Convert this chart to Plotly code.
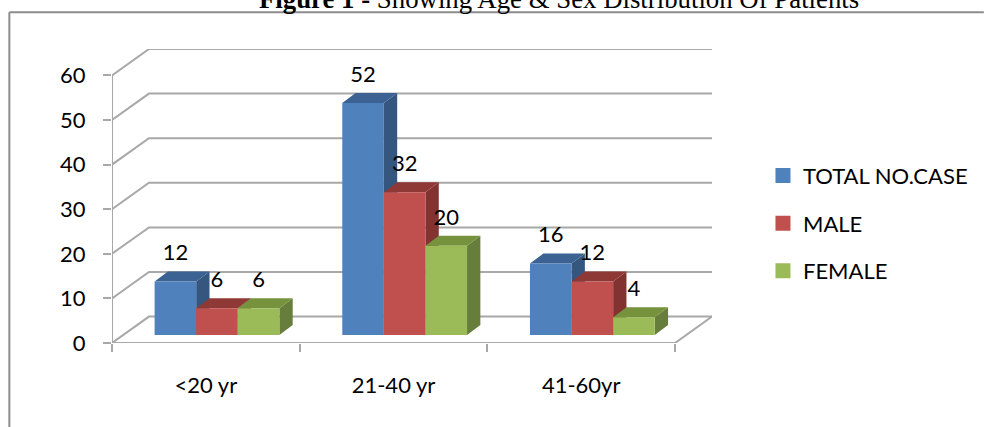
import plotly.graph_objects as go

# Data
categories = ["<20 yr", "21-40 yr", "41-60yr"]
total_cases = [12, 52, 16]
male_cases = [6, 32, 12]
female_cases = [6, 20, 4]
series_names = ["TOTAL NO.CASE", "MALE", "FEMALE"]
y_ticks = [0, 10, 20, 30, 40, 50, 60]
title_html = "<b>Figure 1 -</b> Showing Age &amp; Sex Distribution Of Patients"

# Style
front_colors = ["#4f81bd", "#c0504d", "#9bbb59"]
side_colors = ["#34567f", "#823230", "#677d3b"]
top_colors = ["#3b6292", "#8f3937", "#76923c"]
GRID = "#a8a8a8"
TEXT_FONT = "Lato"
FS = 22

# Faux-3D geometry in axis units
W, H = 984, 427
L, R, T, B = 111.7, 272, 49.3, 84
WALL_DX, WALL_DY = 0.197, 5.92
BAR_W, BAR_START = 0.2216, 0.227
BAR_BASE = 1.8
DEPTH_X, DEPTH_Y = 0.071, 2.24
LABEL_GAP = 6.0
N = len(categories)
XMAX = N + WALL_DX
YMAX = y_ticks[-1] + WALL_DY

fig = go.Figure()

# Walls and floor
gx, gy = [], []
for t in y_ticks:
    gx += [0, WALL_DX, XMAX, None]
    gy += [t, t + WALL_DY, t + WALL_DY, None]
gx += [N, XMAX, None, 0, 0, None, 0, N]
gy += [0, WALL_DY, None, 0, y_ticks[-1], None, 0, 0]
fig.add_trace(go.Scatter(x=gx, y=gy, mode="lines", line=dict(color=GRID, width=2),
                         hoverinfo="skip", showlegend=False, cliponaxis=False))

all_values = [total_cases, male_cases, female_cases]

# Side and top faces (behind the front faces, which sit on the overlay axes)
for s, values in enumerate(all_values):
    sx, sy, tx, ty = [], [], [], []
    for i, v in enumerate(values):
        x0 = i + BAR_START + s * BAR_W
        x1 = x0 + BAR_W
        top = BAR_BASE + v
        sx += [x1, x1 + DEPTH_X, x1 + DEPTH_X, x1, x1, None]
        sy += [BAR_BASE, BAR_BASE + DEPTH_Y, top + DEPTH_Y, top, BAR_BASE, None]
        tx += [x0, x1, x1 + DEPTH_X, x0 + DEPTH_X, x0, None]
        ty += [top, top, top + DEPTH_Y, top + DEPTH_Y, top, None]
    fig.add_trace(go.Scatter(x=sx, y=sy, mode="lines", fill="toself", fillcolor=side_colors[s],
                             line=dict(width=0), hoverinfo="skip", showlegend=False))
    fig.add_trace(go.Scatter(x=tx, y=ty, mode="lines", fill="toself", fillcolor=top_colors[s],
                             line=dict(width=0), hoverinfo="skip", showlegend=False))

# Front faces, labels, legend entries
for s, values in enumerate(all_values):
    xs = [i + BAR_START + (s + 0.5) * BAR_W for i in range(N)]
    fig.add_trace(go.Bar(x=xs, y=values, base=BAR_BASE, width=BAR_W, name=series_names[s],
                         marker=dict(color=front_colors[s], line=dict(width=0)),
                         xaxis="x2", yaxis="y2", showlegend=False, legendgroup=series_names[s]))
for s, values in enumerate(all_values):
    xs = [i + BAR_START + (s + 0.5) * BAR_W for i in range(N)]
    fig.add_trace(go.Scatter(x=xs, y=[BAR_BASE + v + LABEL_GAP for v in values],
                             mode="text", text=[str(v) for v in values],
                             textfont=dict(family=TEXT_FONT, size=FS, color="black"),
                             textposition="middle center", xaxis="x2", yaxis="y2",
                             hoverinfo="skip", showlegend=False, cliponaxis=False))
for s, name in enumerate(series_names):
    fig.add_trace(go.Scatter(x=[None], y=[None], mode="markers", name=name, legendgroup=name,
                             marker=dict(symbol="square", size=15, color=front_colors[s]),
                             xaxis="x2", yaxis="y2"))

fig.update_layout(
    width=W, height=H, margin=dict(l=L, r=R, t=T, b=B, pad=0, autoexpand=False),
    paper_bgcolor="white", plot_bgcolor="white",
    barmode="overlay", showlegend=True,
    font=dict(family=TEXT_FONT, size=FS, color="black"),
    legend=dict(x=(763 - L) / (W - L - R), y=1 - (155 - T) / (H - T - B),
                xanchor="left", yanchor="top", tracegroupgap=16,
                bgcolor="rgba(0,0,0,0)", font=dict(family=TEXT_FONT, size=FS, color="black")),
    xaxis=dict(range=[0, XMAX], tickmode="array",
               tickvals=[i + 0.5 for i in range(N)], ticktext=categories,
               ticks="outside", ticklen=0, ticklabelstandoff=23, showgrid=False, zeroline=False,
               showline=False,
               minor=dict(tickmode="array", tickvals=list(range(N + 1)), ticks="outside",
                          ticklen=8, tickwidth=2, tickcolor=GRID, showgrid=False)),
    yaxis=dict(range=[0, YMAX], tickmode="array", tickvals=y_ticks, ticks="outside",
               ticklen=8, tickwidth=2, tickcolor=GRID, ticklabelstandoff=13,
               showgrid=False, zeroline=False, showline=False),
    xaxis2=dict(range=[0, XMAX], overlaying="x", visible=False),
    yaxis2=dict(range=[0, YMAX], overlaying="y", visible=False),
    shapes=[
        dict(type="line", xref="paper", yref="paper",
             x0=(9 - L) / (W - L - R), x1=(W - L) / (W - L - R),
             y0=1 + (T - 12.7) / (H - T - B), y1=1 + (T - 12.7) / (H - T - B),
             line=dict(color="#8c8c8c", width=2)),
        dict(type="line", xref="paper", yref="paper",
             x0=(9 - L) / (W - L - R), x1=(9 - L) / (W - L - R),
             y0=-B / (H - T - B), y1=1 + (T - 12.7) / (H - T - B),
             line=dict(color="#8c8c8c", width=2)),
    ],
    annotations=[dict(text=title_html, xref="paper", yref="paper",
                      x=(559 - L) / (W - L - R), y=1 + (T + 1) / (H - T - B),
                      xanchor="center", yanchor="middle", showarrow=False,
                      font=dict(family="Liberation Serif", size=26.8, color="black"))],
)

fig.write_html("out.html", config=dict(displayModeBar=False),
               post_script="document.body.style.margin='0';document.body.style.overflow='hidden';")
